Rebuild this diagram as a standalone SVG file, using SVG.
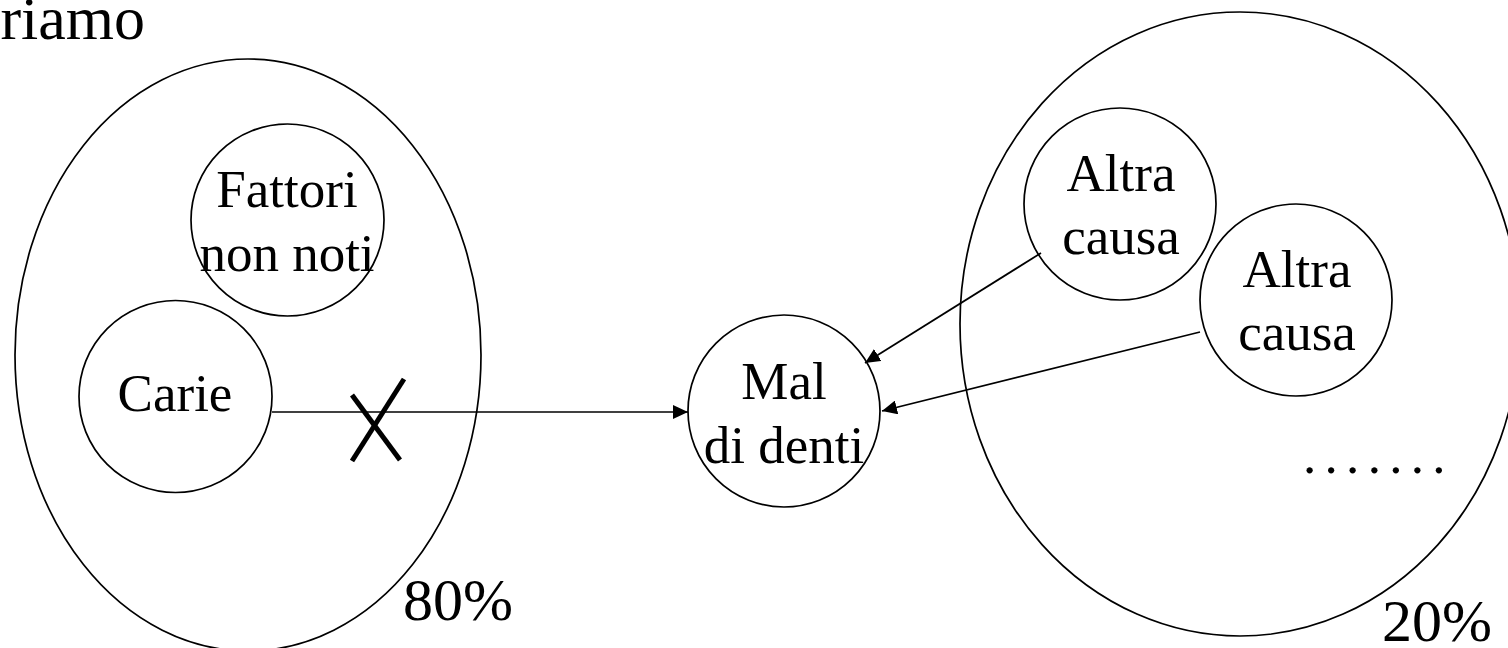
<svg xmlns="http://www.w3.org/2000/svg" width="1508" height="648" viewBox="0 0 1508 648">
  <style>
    .outline { fill: none; stroke: #000; stroke-width: 1.7; }
    .label { font-family: "Liberation Serif", "Times New Roman", serif; font-size: 53px; fill: #000; text-anchor: middle; }
    .pct { font-family: "Liberation Serif", "Times New Roman", serif; font-size: 60px; fill: #000; }
    .edge { stroke: #000; stroke-width: 1.7; fill: none; marker-end: url(#arrow); }
  </style>
  <defs>
    <marker id="arrow" viewBox="0 0 15 14" refX="15" refY="7" markerWidth="15" markerHeight="14" markerUnits="userSpaceOnUse" orient="auto">
      <path d="M0,0 L15,7 L0,14 z" fill="#000"/>
    </marker>
  </defs>
  <rect x="0" y="0" width="1508" height="648" fill="#fff"/>

  <!-- heading fragment -->
  <text x="145" y="39" text-anchor="end" font-family="Liberation Serif, Times New Roman, serif" font-size="62">riamo</text>

  <!-- left region: 80% -->
  <g id="region-80">
    <ellipse class="outline" cx="248" cy="355" rx="233" ry="296"/>
    <text class="pct" x="403" y="620">80%</text>
  </g>

  <!-- right region: 20% -->
  <g id="region-20">
    <ellipse class="outline" cx="1240" cy="324" rx="280" ry="312"/>
    <text class="pct" x="1382" y="641">20%</text>
    <text x="1303" y="473" font-family="Liberation Serif, Times New Roman, serif" font-size="53" letter-spacing="8.3">.......</text>
  </g>

  <!-- connectors -->
  <g id="connectors">
    <line class="edge" x1="272" y1="412" x2="688" y2="412"/>
    <line class="edge" x1="1041" y1="253" x2="865" y2="363"/>
    <line class="edge" x1="1200" y1="332" x2="882" y2="411"/>
    <!-- blocked link mark -->
    <g stroke="#000" stroke-width="5" stroke-linecap="butt">
      <line x1="352" y1="395" x2="400" y2="460"/>
      <line x1="404" y1="379" x2="352" y2="461"/>
    </g>
  </g>

  <g id="node-fattori">
    <ellipse class="outline" cx="287.5" cy="220" rx="96.5" ry="96"/>
    <text class="label" x="287" y="207">Fattori</text>
    <text class="label" x="287" y="271">non noti</text>
  </g>

  <g id="node-carie">
    <ellipse class="outline" cx="175.5" cy="396.5" rx="96.5" ry="96"/>
    <text class="label" x="175" y="411">Carie</text>
  </g>

  <g id="node-mal-di-denti">
    <ellipse class="outline" cx="784" cy="411" rx="96" ry="96"/>
    <text class="label" x="784" y="399">Mal</text>
    <text class="label" x="784" y="463">di denti</text>
  </g>

  <g id="node-altra-causa-1">
    <ellipse class="outline" cx="1120" cy="204" rx="96" ry="96"/>
    <text class="label" x="1121" y="191">Altra</text>
    <text class="label" x="1121" y="254">causa</text>
  </g>

  <g id="node-altra-causa-2">
    <ellipse class="outline" cx="1296" cy="300" rx="96" ry="96"/>
    <text class="label" x="1297" y="287">Altra</text>
    <text class="label" x="1297" y="350">causa</text>
  </g>
</svg>
